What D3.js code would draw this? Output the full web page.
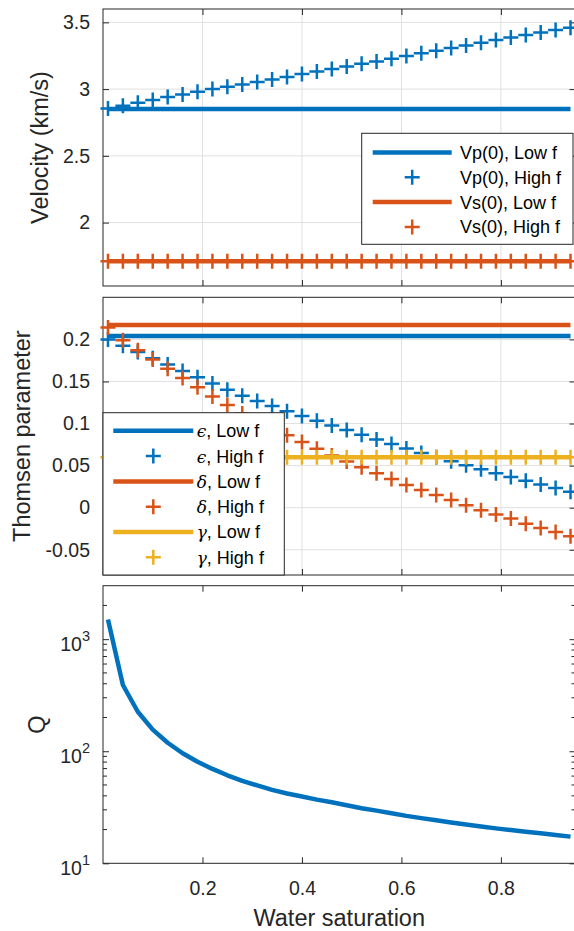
<!DOCTYPE html>
<html>
<head>
<meta charset="utf-8">
<script src="https://cdn.jsdelivr.net/npm/d3@7"></script>
<style>
	body { margin: 0; background: #fff; }
	svg { display: block; font-family: "Liberation Sans", Arial, Helvetica, sans-serif; }
	.axis text { fill: #262626; font-size: 19.5px; }
	.axis line { stroke: #262626; stroke-width: 1; }
	.grid line { stroke: #e0e0e0; stroke-width: 1; }
	.frame { fill: none; stroke: #262626; stroke-width: 1; }
	.label { fill: #262626; font-size: 23.5px; }
	.legend text { fill: #000; font-size: 18px; }
	.greek { font-family: "DejaVu Serif", serif; font-style: italic; font-size: 17px; }
</style>
</head>
<body>
<div id="chart"></div>
<script>
// water saturation (x of every series)
var saturation = [0.01, 0.04, 0.07, 0.10, 0.13, 0.16, 0.19, 0.22, 0.25, 0.28, 0.31, 0.34, 0.37, 0.40, 0.43, 0.46,
	0.49, 0.52, 0.55, 0.58, 0.61, 0.64, 0.67, 0.70, 0.73, 0.76, 0.79, 0.82, 0.85, 0.88, 0.91, 0.94];

// velocities (km/s)
var vpLowF = [2.85, 2.85, 2.85, 2.85, 2.85, 2.85, 2.85, 2.85, 2.85, 2.85, 2.85, 2.85, 2.85, 2.85, 2.85, 2.85,
	2.85, 2.85, 2.85, 2.85, 2.85, 2.85, 2.85, 2.85, 2.85, 2.85, 2.85, 2.85, 2.85, 2.85, 2.85, 2.85];
var vpHighF = [2.855, 2.875, 2.898, 2.919, 2.94, 2.96, 2.981, 3.0, 3.017, 3.035, 3.054, 3.071, 3.09, 3.113, 3.132, 3.151,
	3.169, 3.189, 3.207, 3.227, 3.248, 3.268, 3.288, 3.307, 3.327, 3.348, 3.368, 3.386, 3.405, 3.424, 3.443, 3.46];
var vsLowF = [1.71, 1.71, 1.71, 1.71, 1.71, 1.71, 1.71, 1.71, 1.71, 1.71, 1.71, 1.71, 1.71, 1.71, 1.71, 1.71,
	1.71, 1.71, 1.71, 1.71, 1.71, 1.71, 1.71, 1.71, 1.71, 1.71, 1.71, 1.71, 1.71, 1.71, 1.71, 1.71];
var vsHighF = [1.71, 1.71, 1.71, 1.71, 1.71, 1.71, 1.71, 1.71, 1.71, 1.71, 1.71, 1.71, 1.71, 1.71, 1.71, 1.71,
	1.71, 1.71, 1.71, 1.71, 1.71, 1.71, 1.71, 1.71, 1.71, 1.71, 1.71, 1.71, 1.71, 1.71, 1.71, 1.71];

// Thomsen parameters
var epsLowF = [0.204, 0.204, 0.204, 0.204, 0.204, 0.204, 0.204, 0.204, 0.204, 0.204, 0.204, 0.204, 0.204, 0.204, 0.204, 0.204,
	0.204, 0.204, 0.204, 0.204, 0.204, 0.204, 0.204, 0.204, 0.204, 0.204, 0.204, 0.204, 0.204, 0.204, 0.204, 0.204];
var epsHighF = [0.200, 0.1925, 0.185, 0.1775, 0.170, 0.1625, 0.155, 0.1475, 0.140, 0.133, 0.1268, 0.1207, 0.1147, 0.109, 0.1034, 0.0978,
	0.0922, 0.0866, 0.0811, 0.0756, 0.0702, 0.065, 0.060, 0.0551, 0.0503, 0.0456, 0.041, 0.0365, 0.032, 0.0276, 0.0233, 0.019];
var delLowF = [0.217, 0.217, 0.217, 0.217, 0.217, 0.217, 0.217, 0.217, 0.217, 0.217, 0.217, 0.217, 0.217, 0.217, 0.217, 0.217,
	0.217, 0.217, 0.217, 0.217, 0.217, 0.217, 0.217, 0.217, 0.217, 0.217, 0.217, 0.217, 0.217, 0.217, 0.217, 0.217];
var delHighF = [0.214, 0.199, 0.187, 0.176, 0.165, 0.154, 0.143, 0.132, 0.122, 0.112, 0.103, 0.094, 0.086, 0.078, 0.070, 0.062,
	0.055, 0.048, 0.041, 0.034, 0.027, 0.021, 0.015, 0.009, 0.003, -0.003, -0.008, -0.013, -0.019, -0.024, -0.029, -0.034];
var gamLowF = [0.06, 0.06, 0.06, 0.06, 0.06, 0.06, 0.06, 0.06, 0.06, 0.06, 0.06, 0.06, 0.06, 0.06, 0.06, 0.06,
	0.06, 0.06, 0.06, 0.06, 0.06, 0.06, 0.06, 0.06, 0.06, 0.06, 0.06, 0.06, 0.06, 0.06, 0.06, 0.06];
var gamHighF = [0.06, 0.06, 0.06, 0.06, 0.06, 0.06, 0.06, 0.06, 0.06, 0.06, 0.06, 0.06, 0.06, 0.06, 0.06, 0.06,
	0.06, 0.06, 0.06, 0.06, 0.06, 0.06, 0.06, 0.06, 0.06, 0.06, 0.06, 0.06, 0.06, 0.06, 0.06, 0.06];

// quality factor
var qValues = [1500, 390, 225, 156, 119, 96, 80.5, 69.5, 61, 54.5, 49.5, 45.2, 42, 39.5, 37, 35,
	33, 31, 29.5, 28, 26.5, 25.3, 24.2, 23.1, 22.2, 21.3, 20.5, 19.8, 19.1, 18.5, 17.9, 17.3];

// ticks
var xTicks = [0.2, 0.4, 0.6, 0.8];
var velTicks = [2, 2.5, 3, 3.5];
var thomTicks = [-0.05, 0, 0.05, 0.1, 0.15, 0.2];
var qMajor = [10, 100, 1000];
var qMinor = [20, 30, 40, 50, 60, 70, 80, 90, 200, 300, 400, 500, 600, 700, 800, 900, 2000];

var blue = "#0072BD", orange = "#D95319", yellow = "#EDB120";

var width = 574, height = 931;
var left = 103, right = 575.5;
var panels = [{ top: 9, bottom: 286 }, { top: 297.3, bottom: 575 }, { top: 585.7, bottom: 863.3 }];

var svg = d3.select("#chart").append("svg")
	.attr("width", width)
	.attr("height", height);

var x = d3.scaleLinear().domain([0, 0.95]).range([left, right]);

var yVel = d3.scaleLinear().domain([1.525, 3.6]).range([panels[0].bottom, panels[0].top]);
var yThom = d3.scaleLinear().domain([-0.08, 0.25]).range([panels[1].bottom, panels[1].top]);
var yQ = d3.scaleLog().domain([10, 3000]).range([panels[2].bottom, panels[2].top]);

// plain number labels, hyphen for negatives (like MATLAB)
var plain = d => String(d);

/*
 * Frame, grid and inward ticks of one panel
 */
function drawAxes(p, y, yTicks, grid, showX, fmt) {
	var g = svg.append("g");

	if (grid) {
		var gg = g.append("g").attr("class", "grid");
		gg.selectAll(".gx").data(xTicks).join("line")
			.attr("x1", d => x(d)).attr("x2", d => x(d))
			.attr("y1", p.top).attr("y2", p.bottom);
		gg.selectAll(".gy").data(yTicks).join("line")
			.attr("x1", left).attr("x2", right)
			.attr("y1", d => y(d)).attr("y2", d => y(d));
	}

	g.append("g").attr("class", "axis")
		.attr("transform", "translate(" + left + ",0)")
		.call(d3.axisLeft(y).tickValues(yTicks).tickSize(-6).tickPadding(13).tickFormat(fmt));
	g.append("g").attr("class", "axis")
		.attr("transform", "translate(" + right + ",0)")
		.call(d3.axisRight(y).tickValues(yTicks).tickSize(-6).tickFormat(""));
	g.append("g").attr("class", "axis")
		.attr("transform", "translate(0," + p.top + ")")
		.call(d3.axisTop(x).tickValues(xTicks).tickSize(-6).tickFormat(""));
	g.append("g").attr("class", "axis")
		.attr("transform", "translate(0," + p.bottom + ")")
		.call(d3.axisBottom(x).tickValues(xTicks).tickSize(-6).tickPadding(18)
			.tickFormat(showX ? plain : ""));
	g.selectAll(".domain").remove();

	g.append("rect").attr("class", "frame")
		.attr("x", left).attr("y", p.top)
		.attr("width", right - left).attr("height", p.bottom - p.top);
	return g;
}

function plusPath(cx, cy, r) {
	return "M" + (cx - r) + "," + cy + "H" + (cx + r) + "M" + cx + "," + (cy - r) + "V" + (cy + r);
}

function drawLine(values, y, color) {
	var line = d3.line().x((d, i) => x(saturation[i])).y(d => y(d));
	svg.append("path").datum(values)
		.attr("d", line)
		.attr("fill", "none")
		.attr("stroke", color)
		.attr("stroke-width", 4.5)
		.attr("stroke-linejoin", "round");
}

function drawPlus(values, y, color) {
	svg.append("g").selectAll("path").data(values).join("path")
		.attr("d", (d, i) => plusPath(x(saturation[i]), y(d), 7.5))
		.attr("stroke", color)
		.attr("stroke-width", 2.5)
		.attr("fill", "none");
}

function drawLegend(box, rows, lineX0, lineX1, textX) {
	var g = svg.append("g").attr("class", "legend");
	g.append("rect")
		.attr("x", box.x).attr("y", box.y).attr("width", box.w).attr("height", box.h)
		.attr("fill", "#fff").attr("stroke", "#262626").attr("stroke-width", 1);
	rows.forEach((r, i) => {
		var cy = box.row0 + i * box.step;
		if (r.type == "line") {
			g.append("line")
				.attr("x1", lineX0).attr("x2", lineX1).attr("y1", cy).attr("y2", cy)
				.attr("stroke", r.color).attr("stroke-width", 4.5);
		} else {
			g.append("path").attr("d", plusPath((lineX0 + lineX1) / 2, cy, 7.5))
				.attr("stroke", r.color).attr("stroke-width", 2.5).attr("fill", "none");
		}
		var t = g.append("text").attr("x", textX).attr("y", cy).attr("dy", "0.36em");
		if (r.greek) {
			t.append("tspan").attr("class", "greek").text(r.greek);
		}
		t.append("tspan").text(r.text);
	});
}

// ---------- panel 1: velocities ----------
drawAxes(panels[0], yVel, velTicks, true, false, plain);
drawLine(vpLowF, yVel, blue);
drawPlus(vpHighF, yVel, blue);
drawLine(vsLowF, yVel, orange);
drawPlus(vsHighF, yVel, orange);

drawLegend({ x: 361.7, y: 133.3, w: 211.3, h: 111, row0: 152.5, step: 24.8 }, [
	{ type: "line", color: blue, text: "Vp(0), Low f" },
	{ type: "plus", color: blue, text: "Vp(0), High f" },
	{ type: "line", color: orange, text: "Vs(0), Low f" },
	{ type: "plus", color: orange, text: "Vs(0), High f" }
], 372.7, 451.7, 460);

// ---------- panel 2: Thomsen parameters ----------
drawAxes(panels[1], yThom, thomTicks, true, false, plain);
drawLine(epsLowF, yThom, blue);
drawPlus(epsHighF, yThom, blue);
drawLine(delLowF, yThom, orange);
drawPlus(delHighF, yThom, orange);
drawLine(gamLowF, yThom, yellow);
drawPlus(gamHighF, yThom, yellow);

drawLegend({ x: 103, y: 412.7, w: 181.3, h: 162.3, row0: 430.8, step: 25.3 }, [
	{ type: "line", color: blue, greek: "\u03F5", text: ", Low f" },
	{ type: "plus", color: blue, greek: "\u03F5", text: ", High f" },
	{ type: "line", color: orange, greek: "\u03B4", text: ", Low f" },
	{ type: "plus", color: orange, greek: "\u03B4", text: ", High f" },
	{ type: "line", color: yellow, greek: "\u03B3", text: ", Low f" },
	{ type: "plus", color: yellow, greek: "\u03B3", text: ", High f" }
], 113.3, 193.3, 196.7);

// ---------- panel 3: Q (log) ----------
var g3 = drawAxes(panels[2], yQ, qMajor, false, true, "");
// log tick labels 10^n
g3.select(".axis").selectAll(".tick text").remove();
var qLab = g3.append("g").attr("class", "axis");
qMajor.forEach(v => {
	var t = qLab.append("text")
		.attr("x", 90).attr("y", yQ(v) + 11.5)
		.attr("text-anchor", "end");
	t.append("tspan").text("10");
	t.append("tspan").attr("dy", -10).style("font-size", "14.5px").text(Math.round(Math.log10(v)));
});
// minor ticks both sides
g3.append("g").selectAll("line").data(qMinor).join("line")
	.attr("x1", left).attr("x2", left + 4)
	.attr("y1", d => yQ(d)).attr("y2", d => yQ(d))
	.attr("stroke", "#262626");
g3.append("g").selectAll("line").data(qMinor).join("line")
	.attr("x1", right - 4).attr("x2", right)
	.attr("y1", d => yQ(d)).attr("y2", d => yQ(d))
	.attr("stroke", "#262626");
drawLine(qValues, yQ, blue);

// ---------- axis labels ----------
function yLabel(text, bx, p) {
	svg.append("text").attr("class", "label")
		.attr("transform", "translate(" + bx + "," + (p.top + p.bottom) / 2 + ") rotate(-90)")
		.attr("text-anchor", "middle")
		.text(text);
}
yLabel("Velocity (km/s)", 48, panels[0]);
yLabel("Thomsen parameter", 29.5, panels[1]);
yLabel("Q", 44.5, panels[2]);

svg.append("text").attr("class", "label")
	.attr("x", (left + right) / 2).attr("y", 926)
	.attr("text-anchor", "middle")
	.text("Water saturation");
</script>
</body>
</html>
